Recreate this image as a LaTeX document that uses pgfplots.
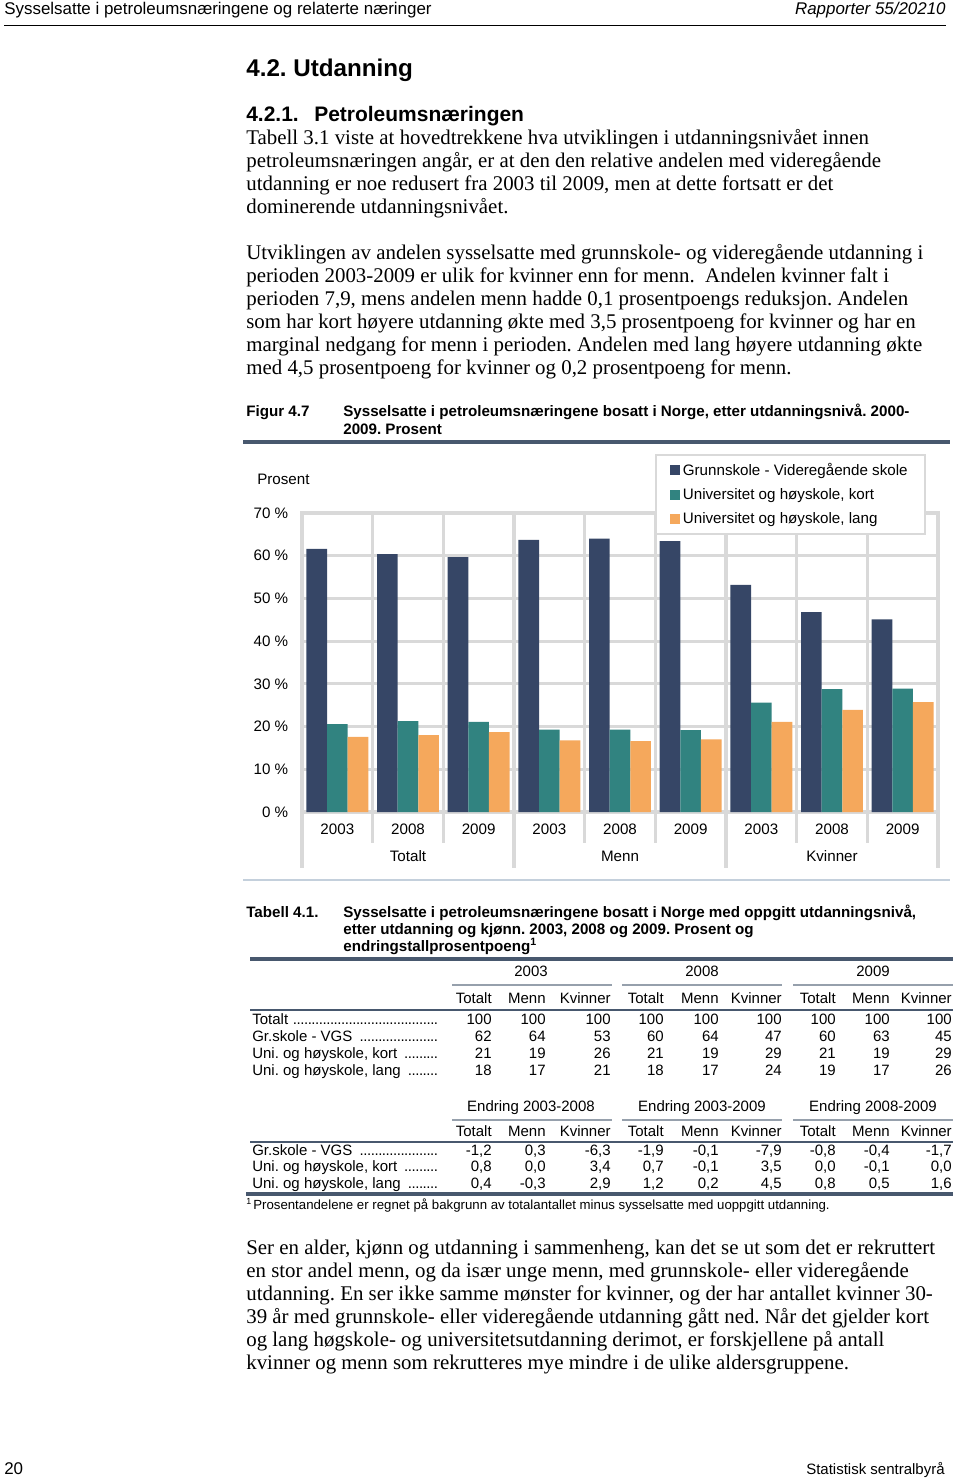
\documentclass[border=0pt]{standalone}
\usepackage{pgfplots}
\pgfplotsset{compat=1.18}
\usepackage{fontspec}
\setmainfont{Liberation Serif}
\newfontfamily\arial{Liberation Sans}
\definecolor{navy}{RGB}{54,70,102}
\definecolor{tealc}{RGB}{49,131,128}
\definecolor{orangec}{RGB}{245,168,92}
\definecolor{gridg}{RGB}{217,217,217}
\definecolor{ruledark}{RGB}{72,88,110}
\definecolor{rulelight}{RGB}{196,208,220}
\definecolor{rulemid}{RGB}{150,160,172}
\newcommand\dc{,}
\newcommand\dotlead{\leaders\hbox to 2.3pt{\hss.\hss}\hfill}
\newcommand\trow[2]{%
  \foreach \v [count=\i] in {#2}{%
    \pgfmathsetmacro\xx{{492,546,611,664,719,782,836,890,952}[\i-1]}%
    \node[ptab, anchor=base east] at (\xx,#1) {\v};}}
\newcommand\rlab[2]{\node[ptab, anchor=base west] at (252,#1) {\makebox[116pt][l]{#2\ \dotlead}};}
\frenchspacing
\begin{document}
\begin{tikzpicture}
\begin{scope}[x=0.62pt,y=-0.62pt]
\useasboundingbox (0,0) rectangle (960,1478);
\tikzset{
  pbody/.style={anchor=base west, inner sep=0pt, font=\fontsize{12.95}{15}\selectfont},
  phdr/.style={inner sep=0pt, font=\arial\fontsize{10.5}{12}\selectfont},
  pcap/.style={anchor=base west, inner sep=0pt, font=\arial\bfseries\fontsize{9.4}{11}\selectfont},
  ptab/.style={inner sep=0pt, font=\arial\fontsize{9.3}{11}\selectfont},
  plab/.style={inner sep=0pt, font=\arial\fontsize{9.4}{11}\selectfont},
}
% page header
\node[phdr, anchor=base west] at (4,14) {Sysselsatte i petroleumsnæringene og relaterte næringer};
\node[phdr, anchor=base east] at (946,14) {\itshape Rapporter 55/20210};
\draw[black, line width=0.6pt] (4,25) -- (946,25);
% headings
\node[anchor=base west, inner sep=0pt, font=\arial\bfseries\fontsize{15}{17}\selectfont] at (246,76) {4.2. Utdanning};
\node[anchor=base west, inner sep=0pt, font=\arial\bfseries\fontsize{13}{15}\selectfont] at (246,121.7) {4.2.1.};
\node[anchor=base west, inner sep=0pt, font=\arial\bfseries\fontsize{13}{15}\selectfont] at (314,121.7) {Petroleumsnæringen};
% paragraph 1
\node[pbody] at (246,144.3) {Tabell 3.1 viste at hovedtrekkene hva utviklingen i utdanningsnivået innen};
\node[pbody] at (246,167.3) {petroleumsnæringen angår, er at den den relative andelen med videregående};
\node[pbody] at (246,190.3) {utdanning er noe redusert fra 2003 til 2009, men at dette fortsatt er det};
\node[pbody] at (246,213.3) {dominerende utdanningsnivået.};
% paragraph 2
\node[pbody] at (246,259.5) {Utviklingen av andelen sysselsatte med grunnskole- og videregående utdanning i};
\node[pbody] at (246,282.5) {perioden 2003-2009 er ulik for kvinner enn for menn.\ \ Andelen kvinner falt i};
\node[pbody] at (246,305.5) {perioden 7,9, mens andelen menn hadde 0,1 prosentpoengs reduksjon. Andelen};
\node[pbody] at (246,328.5) {som har kort høyere utdanning økte med 3,5 prosentpoeng for kvinner og har en};
\node[pbody] at (246,351.5) {marginal nedgang for menn i perioden. Andelen med lang høyere utdanning økte};
\node[pbody] at (246,374.5) {med 4,5 prosentpoeng for kvinner og 0,2 prosentpoeng for menn.};
% figure caption
\node[pcap] at (246,416.5) {Figur 4.7};
\node[pcap] at (343,416.5) {Sysselsatte i petroleumsnæringene bosatt i Norge, etter utdanningsnivå. 2000-};
\node[pcap] at (343,434.5) {2009. Prosent};
\draw[ruledark, line width=1.9pt] (243,442) -- (950,442);
\node[plab, anchor=base west] at (257,484) {Prosent};
\draw[rulelight, line width=1.3pt] (243,880) -- (950,880);
% table caption
\node[pcap] at (246,917.5) {Tabell 4.1.};
\node[pcap] at (343,917.5) {Sysselsatte i petroleumsnæringene bosatt i Norge med oppgitt utdanningsnivå,};
\node[pcap] at (343,934.5) {etter utdanning og kjønn. 2003, 2008 og 2009. Prosent og};
\node[pcap] at (343,951.5) {endringstallprosentpoeng\textsuperscript{1}};
% table 1
\draw[ruledark, line width=1.9pt] (250,959) -- (953,959);
\node[ptab, anchor=base] at (531,976) {2003};
\node[ptab, anchor=base] at (702,976) {2008};
\node[ptab, anchor=base] at (873,976) {2009};
\draw[rulemid, line width=0.9pt] (452,985) -- (612,985);
\draw[rulemid, line width=0.9pt] (622,985) -- (782,985);
\draw[rulemid, line width=0.9pt] (793,985) -- (953,985);
\trow{1003}{Totalt,Menn,Kvinner,Totalt,Menn,Kvinner,Totalt,Menn,Kvinner}
\draw[ruledark, line width=1.5pt] (250,1010) -- (953,1010);
\rlab{1024}{Totalt}
\rlab{1041}{Gr.skole - VGS}
\rlab{1058}{Uni. og høyskole, kort}
\rlab{1075}{Uni. og høyskole, lang}
\trow{1024}{100,100,100,100,100,100,100,100,100}
\trow{1041}{62,64,53,60,64,47,60,63,45}
\trow{1058}{21,19,26,21,19,29,21,19,29}
\trow{1075}{18,17,21,18,17,24,19,17,26}
% table 2
\node[ptab, anchor=base] at (531,1111) {Endring 2003-2008};
\node[ptab, anchor=base] at (702,1111) {Endring 2003-2009};
\node[ptab, anchor=base] at (873,1111) {Endring 2008-2009};
\draw[rulemid, line width=0.9pt] (452,1120) -- (612,1120);
\draw[rulemid, line width=0.9pt] (622,1120) -- (782,1120);
\draw[rulemid, line width=0.9pt] (793,1120) -- (953,1120);
\trow{1136}{Totalt,Menn,Kvinner,Totalt,Menn,Kvinner,Totalt,Menn,Kvinner}
\draw[ruledark, line width=1.5pt] (250,1142) -- (953,1142);
\rlab{1155}{Gr.skole - VGS}
\rlab{1171}{Uni. og høyskole, kort}
\rlab{1188}{Uni. og høyskole, lang}
\trow{1155}{-1\dc2,0\dc3,-6\dc3,-1\dc9,-0\dc1,-7\dc9,-0\dc8,-0\dc4,-1\dc7}
\trow{1171}{0\dc8,0\dc0,3\dc4,0\dc7,-0\dc1,3\dc5,0\dc0,-0\dc1,0\dc0}
\trow{1188}{0\dc4,-0\dc3,2\dc9,1\dc2,0\dc2,4\dc5,0\dc8,0\dc5,1\dc6}
\draw[ruledark, line width=1.9pt] (246,1194) -- (953,1194);
\node[inner sep=0pt, anchor=base west, font=\arial\fontsize{5.5}{6}\selectfont] at (246,1204) {1};
\node[inner sep=0pt, anchor=base west, font=\arial\fontsize{8.2}{9}\selectfont] at (253,1209.5) {Prosentandelene er regnet på bakgrunn av totalantallet minus sysselsatte med uoppgitt utdanning.};
% paragraph 3
\node[pbody] at (246,1254.3) {Ser en alder, kjønn og utdanning i sammenheng, kan det se ut som det er rekruttert};
\node[pbody] at (246,1277.3) {en stor andel menn, og da især unge menn, med grunnskole- eller videregående};
\node[pbody] at (246,1300.3) {utdanning. En ser ikke samme mønster for kvinner, og der har antallet kvinner 30-};
\node[pbody] at (246,1323.3) {39 år med grunnskole- eller videregående utdanning gått ned. Når det gjelder kort};
\node[pbody] at (246,1346.3) {og lang høgskole- og universitetsutdanning derimot, er forskjellene på antall};
\node[pbody] at (246,1369.3) {kvinner og menn som rekrutteres mye mindre i de ulike aldersgruppene.};
% footer
\node[phdr, anchor=base west] at (4,1474) {20};
\node[inner sep=0pt, font=\arial\fontsize{9.3}{11}\selectfont, anchor=base east] at (945,1474) {Statistisk sentralbyrå};
\end{scope}
\begin{axis}[
  at={(187.24pt,-503.44pt)}, anchor=south west,
  scale only axis, width=394.32pt, height=185.38pt,
  xmin=-0.5, xmax=8.5, ymin=0, ymax=70,
  ybar=0pt, bar width=12.8pt,
  clip=false,
  axis line style={draw=gridg, line width=1.9pt},
  xtick={0,...,8},
  xticklabels={2003,2008,2009,2003,2008,2009,2003,2008,2009},
  minor xtick={0.5,1.5,...,7.5},
  xminorgrids, ymajorgrids,
  major grid style={draw=gridg, line width=1.9pt},
  minor grid style={draw=gridg, line width=1.9pt},
  ytick={0,10,...,70},
  yticklabels={0 \%,10 \%,20 \%,30 \%,40 \%,50 \%,60 \%,70 \%},
  major tick length=0pt,
  minor tick length=19.2pt,
  tick align=outside,
  xtick pos=left, ytick pos=left,
  minor tick style={draw=gridg, line width=1.9pt},
  tick label style={font=\arial\fontsize{9.4}{11}\selectfont},
  /pgf/number format/assume math mode=true,
  yticklabel style={xshift=-5pt},
  xticklabel style={yshift=-4pt},
  legend style={at={(rel axis cs:0.555,1.197)}, anchor=north west,
    draw=gridg, line width=1.2pt, fill=white,
    font=\arial\fontsize{9.4}{11}\selectfont,
    row sep=2.5pt, inner xsep=8.5pt, inner ysep=3pt, cells={anchor=west}},
  legend image code/.code={\fill[#1] (0pt,-3.1pt) rectangle (6.2pt,3.1pt);},
]
\addplot[fill=navy, draw=none] coordinates {(0,61.6) (1,60.4) (2,59.7) (3,63.7) (4,64.0) (5,63.4) (6,53.2) (7,46.8) (8,45.1)};
\addplot[fill=tealc, draw=none] coordinates {(0,20.6) (1,21.3) (2,21.1) (3,19.3) (4,19.3) (5,19.2) (6,25.6) (7,28.8) (8,28.9)};
\addplot[fill=orangec, draw=none] coordinates {(0,17.6) (1,18.0) (2,18.7) (3,16.8) (4,16.6) (5,17.0) (6,21.1) (7,23.9) (8,25.7)};
\legend{Grunnskole - Videregående skole, {Universitet og høyskole, kort}, {Universitet og høyskole, lang}}
\draw[gridg, line width=1.9pt] (axis cs:-0.5,0) -- ++(0pt,-34.7pt);
\draw[gridg, line width=1.9pt] (axis cs:2.5,0) -- ++(0pt,-34.7pt);
\draw[gridg, line width=1.9pt] (axis cs:5.5,0) -- ++(0pt,-34.7pt);
\draw[gridg, line width=1.9pt] (axis cs:8.5,0) -- ++(0pt,-34.7pt);
\node[font=\arial\fontsize{9.4}{11}\selectfont, anchor=base, inner sep=0pt] at (axis cs:1,0) [yshift=-30.7pt] {Totalt};
\node[font=\arial\fontsize{9.4}{11}\selectfont, anchor=base, inner sep=0pt] at (axis cs:4,0) [yshift=-30.7pt] {Menn};
\node[font=\arial\fontsize{9.4}{11}\selectfont, anchor=base, inner sep=0pt] at (axis cs:7,0) [yshift=-30.7pt] {Kvinner};
\end{axis}
\end{tikzpicture}
\end{document}
